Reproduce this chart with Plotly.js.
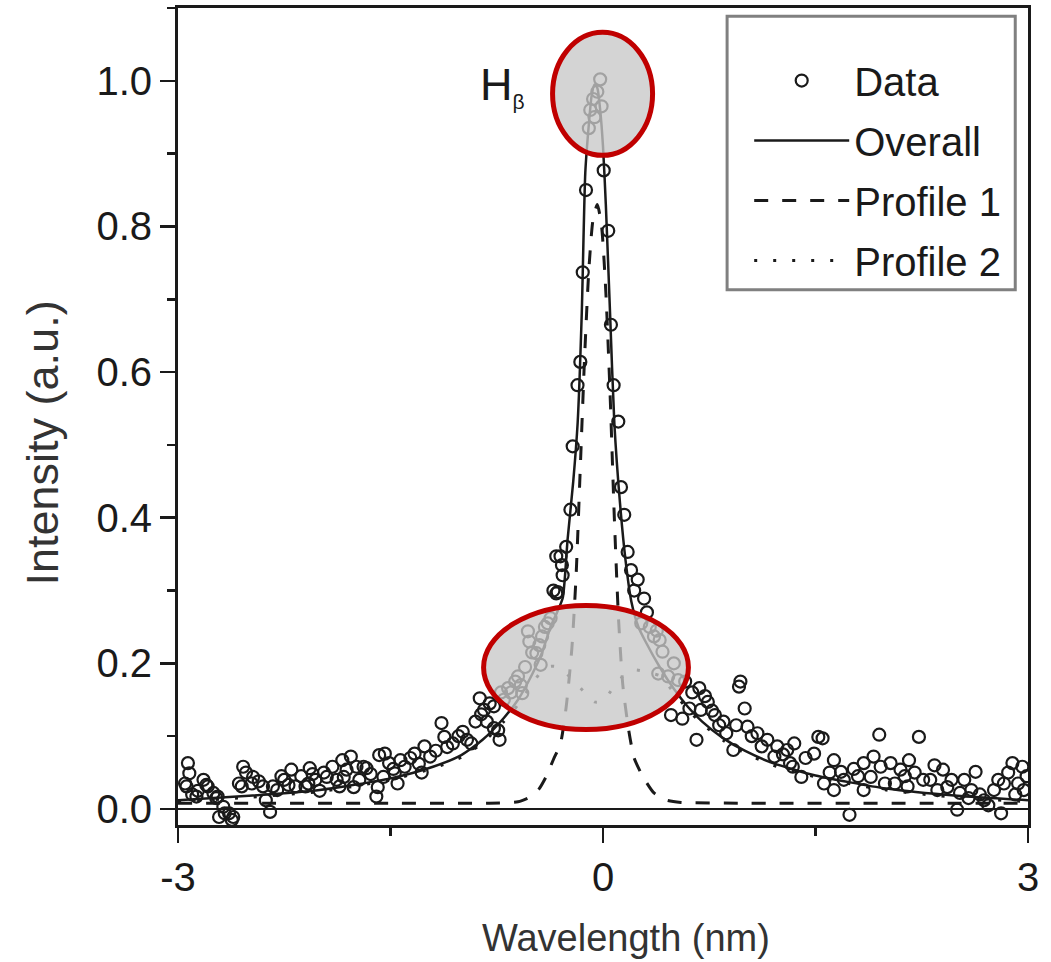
<!DOCTYPE html>
<html>
<head>
<meta charset="utf-8">
<script src="https://cdn.plot.ly/plotly-3.0.1.min.js"></script>
<style>html,body{margin:0;padding:0;background:#fff;}#chart{width:1051px;height:962px;}</style>
</head>
<body>
<div id="chart"></div>
<script>
// Measured data points (wavelength offset in nm, normalized intensity)
const dataX = [
-2.95,-2.94,-2.93,-2.92,-2.90,-2.87,-2.86,-2.82,-2.80,-2.79,-2.75,-2.73,-2.72,-2.71,-2.68,-2.67,-2.64,-2.62,-2.61,
-2.57,-2.55,-2.54,-2.52,-2.48,-2.47,-2.43,-2.40,-2.38,-2.35,-2.33,-2.30,-2.27,-2.25,-2.22,-2.20,-2.17,-2.13,-2.10,
-2.08,-2.07,-2.05,-2.03,-2.00,-1.97,-1.95,-1.91,-1.88,-1.86,-1.84,-1.83,-1.81,-1.78,-1.76,-1.74,-1.72,-1.69,-1.67,
-1.64,-1.60,-1.59,-1.58,-1.55,-1.54,-1.51,-1.48,-1.47,-1.45,-1.43,-1.40,-1.36,-1.33,-1.30,-1.28,-1.26,-1.22,-1.18,
-1.14,-1.12,-1.10,-1.06,-1.02,-0.99,-0.96,-0.93,-0.90,-0.87,-0.86,-0.84,-0.82,-0.80,-0.77,-0.77,-0.74,-0.73,-0.72,
-0.70,-0.67,-0.65,-0.62,-0.60,-0.58,-0.57,-0.55,-0.53,-0.52,-0.50,-0.47,-0.45,-0.44,-0.43,-0.41,-0.39,-0.37,-0.35,
-0.33,-0.33,-0.32,-0.30,-0.285,-0.29,-0.26,-0.23,-0.214,-0.18,-0.16,-0.143,-0.12,-0.10,-0.09,-0.07,-0.06,-0.04,-0.02,
-0.01,0.005,0.037,0.056,0.075,0.108,0.127,0.15,0.174,0.198,0.22,0.245,0.27,0.29,0.31,0.33,0.36,0.38,0.40,0.42,0.39,
0.46,0.48,0.50,0.53,0.56,0.58,0.61,0.63,0.66,0.68,0.69,0.72,0.74,0.77,0.79,0.82,0.85,0.87,0.92,0.94,0.96,0.97,1.00,
1.02,1.05,1.09,1.12,1.16,1.21,1.23,1.27,1.30,1.32,1.34,1.35,1.40,1.43,1.49,1.52,1.55,1.56,1.60,1.63,1.63,1.68,1.70,
1.74,1.77,1.80,1.84,1.84,1.89,1.91,1.95,1.96,1.99,2.03,2.06,2.10,2.13,2.15,2.16,2.20,2.23,2.26,2.31,2.34,2.36,2.40,
2.43,2.46,2.50,2.52,2.55,2.58,2.60,2.63,2.66,2.69,2.72,2.76,2.79,2.81,2.83,2.86,2.89,2.91,2.93,2.96,2.97,2.99
];
const dataY = [
0.035,0.031,0.063,0.049,0.020,0.017,0.025,0.040,0.033,0.031,0.022,0.015,0.017,-0.011,0.003,-0.006,-0.006,-0.015,-0.011,
0.035,0.031,0.058,0.050,0.035,0.044,0.038,0.031,0.012,-0.004,0.031,0.026,0.045,0.040,0.033,0.054,0.031,0.045,0.031,
0.035,0.056,0.048,0.040,0.025,0.050,0.044,0.058,0.040,0.031,0.067,0.044,0.054,0.072,0.030,0.058,0.040,0.058,0.056,
0.048,0.017,0.030,0.074,0.044,0.076,0.063,0.055,0.049,0.035,0.067,0.058,0.070,0.076,0.062,0.050,0.086,0.072,0.080,
0.118,0.099,0.085,0.090,0.100,0.106,0.095,0.090,0.120,0.152,0.130,0.136,0.120,0.145,0.141,0.111,0.108,0.095,0.160,
0.150,0.166,0.160,0.175,0.182,0.170,0.159,0.195,0.244,0.230,0.215,0.214,0.225,0.198,0.237,0.250,0.255,0.262,0.300,
0.296,0.347,0.298,0.347,0.321,0.335,0.360,0.411,0.498,0.582,0.614,0.737,0.850,0.935,0.960,0.975,0.950,0.985,1.002,
0.965,0.877,0.794,0.665,0.582,0.532,0.442,0.404,0.353,0.328,0.300,0.315,0.255,0.289,0.270,0.250,0.237,0.245,0.232,0.216,0.186,
0.182,0.129,0.200,0.177,0.124,0.175,0.138,0.160,0.095,0.166,0.136,0.155,0.147,0.135,0.129,0.115,0.120,0.104,0.081,0.115,0.168,0.175,0.138,
0.113,0.100,0.104,0.086,0.095,0.072,0.086,0.075,0.081,0.063,0.058,0.090,0.044,0.070,0.076,0.099,0.097,0.035,0.050,0.067,0.026,0.051,0.040,
-0.008,0.055,0.045,0.063,0.026,0.044,0.072,0.102,0.058,0.035,0.063,0.035,0.054,0.045,0.031,0.067,0.050,0.099,0.040,0.040,0.060,0.026,0.054,
0.030,0.040,-0.001,0.022,0.040,0.015,0.026,0.051,0.020,0.012,0.005,0.026,0.040,-0.006,0.035,0.050,0.063,0.020,0.035,0.058,0.026,0.045
];

// Fitted curves
const overallX = [-3.0,-2.5,-2.0,-1.5,-1.2,-1.0,-0.85,-0.7,-0.6,-0.5,-0.43,-0.37,-0.32,-0.284,-0.25,-0.21,-0.179,-0.15,-0.125,-0.10,-0.08,-0.06,-0.04,-0.02,0.0,0.02,0.05,0.08,0.12,0.16,0.20,0.25,0.30,0.40,0.50,0.60,0.70,0.85,1.0,1.2,1.5,2.0,2.5,3.0];
const overallY = [0.012,0.018,0.026,0.042,0.058,0.074,0.095,0.125,0.150,0.185,0.215,0.250,0.272,0.290,0.370,0.450,0.530,0.680,0.874,0.940,0.980,0.995,0.990,0.960,0.910,0.830,0.680,0.530,0.420,0.340,0.285,0.250,0.230,0.195,0.165,0.140,0.120,0.097,0.080,0.063,0.046,0.028,0.018,0.012];

const profile1X = [-3.0,-1.5,-0.8,-0.6,-0.5,-0.45,-0.40,-0.35,-0.30,-0.26,-0.22,-0.19,-0.16,-0.13,-0.10,-0.07,-0.04,-0.01,0.02,0.05,0.08,0.11,0.14,0.18,0.22,0.28,0.36,0.45,0.55,1.0,3.0];
const profile1Y = [0.008,0.008,0.008,0.010,0.018,0.028,0.045,0.068,0.090,0.140,0.220,0.320,0.470,0.620,0.740,0.810,0.830,0.800,0.710,0.570,0.400,0.260,0.170,0.110,0.070,0.045,0.022,0.012,0.009,0.008,0.008];

const profile2X = [-3.0,-2.5,-2.0,-1.5,-1.2,-1.0,-0.85,-0.7,-0.6,-0.5,-0.43,-0.37,-0.32,-0.27,-0.20,-0.13,-0.06,0.0,0.07,0.14,0.21,0.27,0.35,0.40,0.50,0.60,0.70,0.85,1.0,1.2,1.5,2.0,2.5,3.0];
const profile2Y = [0.010,0.016,0.024,0.040,0.056,0.071,0.091,0.120,0.143,0.172,0.190,0.196,0.195,0.188,0.175,0.160,0.147,0.148,0.166,0.182,0.191,0.190,0.186,0.183,0.160,0.136,0.117,0.094,0.077,0.060,0.044,0.026,0.016,0.010];

const legendNames = ['Data','Overall','Profile 1','Profile 2'];
const lineLabel = 'H<sub><span style="font-size:21px">β</span></sub>';
const xTitle = 'Wavelength (nm)';
const yTitle = 'Intensity (a.u.)';

const ink = '#1a1a1a';
const fontFam = 'Liberation Sans, Arial, sans-serif';

const traces = [
  {x: dataX, y: dataY, type: 'scatter', mode: 'markers', name: legendNames[0], legendgroup: 'a',
   marker: {symbol: 'circle', size: 12, color: 'rgba(0,0,0,0)', line: {color: ink, width: 2.2}}},
  {x: overallX, y: overallY, type: 'scatter', mode: 'lines', name: legendNames[1], legendgroup: 'b',
   line: {color: ink, width: 2.5, shape: 'spline', smoothing: 0.6}},
  {x: profile1X, y: profile1Y, type: 'scatter', mode: 'lines', name: legendNames[2], legendgroup: 'c',
   line: {color: ink, width: 3, dash: '14px,14px', shape: 'spline', smoothing: 0.6}},
  {x: profile2X, y: profile2Y, type: 'scatter', mode: 'lines', name: legendNames[3], legendgroup: 'd',
   line: {color: ink, width: 3, dash: '3px,16px', shape: 'spline', smoothing: 0.6}}
];

const layout = {
  width: 1051, height: 962,
  margin: {l: 178, r: 23, t: 8, b: 137},
  paper_bgcolor: '#fff', plot_bgcolor: '#fff',
  font: {family: fontFam, color: ink, size: 40},
  showlegend: true,
  legend: {x: 0.672, y: 0.951, xanchor: 'left', yanchor: 'top',
           bgcolor: 'rgba(0,0,0,0)', borderwidth: 0,
           font: {family: fontFam, size: 40, color: ink},
           itemwidth: 95, tracegroupgap: 5},
  xaxis: {range: [-3, 3], tickvals: [-3, 0, 3], ticktext: ['-3', '0', '3'],
          ticks: 'outside', ticklen: 15, tickwidth: 2.5, tickcolor: ink,
          minor: {tickvals: [-1.5, 1.5], ticks: 'outside', ticklen: 8, tickwidth: 2.5, tickcolor: ink},
          showline: true, linewidth: 3, linecolor: ink, mirror: true,
          showgrid: false, zeroline: false,
          tickfont: {size: 40, family: fontFam, color: ink}},
  yaxis: {range: [-0.022, 1.1], tick0: 0, dtick: 0.2, tickformat: '.1f',
          ticks: 'outside', ticklen: 15, tickwidth: 2.5, tickcolor: ink,
          minor: {tick0: 0, dtick: 0.1, ticks: 'outside', ticklen: 8, tickwidth: 2.5, tickcolor: ink},
          showline: true, linewidth: 3, linecolor: ink, mirror: true,
          showgrid: false, zeroline: true, zerolinecolor: ink, zerolinewidth: 2.5,
          tickfont: {size: 40, family: fontFam, color: ink}},
  shapes: [
    {type: 'rect', xref: 'paper', yref: 'paper', x0: 0.646, x1: 0.985, y0: 0.655, y1: 0.990,
     fillcolor: '#fff', line: {color: '#808080', width: 3}, layer: 'above'},
    {type: 'circle', xref: 'x', yref: 'y', x0: -0.356, x1: 0.350, y0: 0.8977, y1: 1.0666,
     fillcolor: 'rgba(200,200,200,0.78)', line: {color: '#c00000', width: 5}, layer: 'above'},
    {type: 'circle', xref: 'x', yref: 'y', x0: -0.843, x1: 0.603, y0: 0.109, y1: 0.2795,
     fillcolor: 'rgba(200,200,200,0.78)', line: {color: '#c00000', width: 5}, layer: 'above'}
  ],
  annotations: [
    {x: -0.71, y: 0.993, xref: 'x', yref: 'y', text: lineLabel, showarrow: false,
     font: {size: 45, family: fontFam, color: ink}, xanchor: 'center', yanchor: 'middle'},
    {x: 0.527, y: -0.138, xref: 'paper', yref: 'paper', text: xTitle, showarrow: false,
     font: {size: 38, family: fontFam, color: '#333'}, xanchor: 'center', yanchor: 'middle'},
    {x: -0.159, y: 0.468, xref: 'paper', yref: 'paper', text: yTitle, showarrow: false, textangle: -90,
     font: {size: 45, family: fontFam, color: '#333'}, xanchor: 'center', yanchor: 'middle'}
  ]
};

Plotly.newPlot('chart', traces, layout, {displayModeBar: false, staticPlot: true});
</script>
</body>
</html>
